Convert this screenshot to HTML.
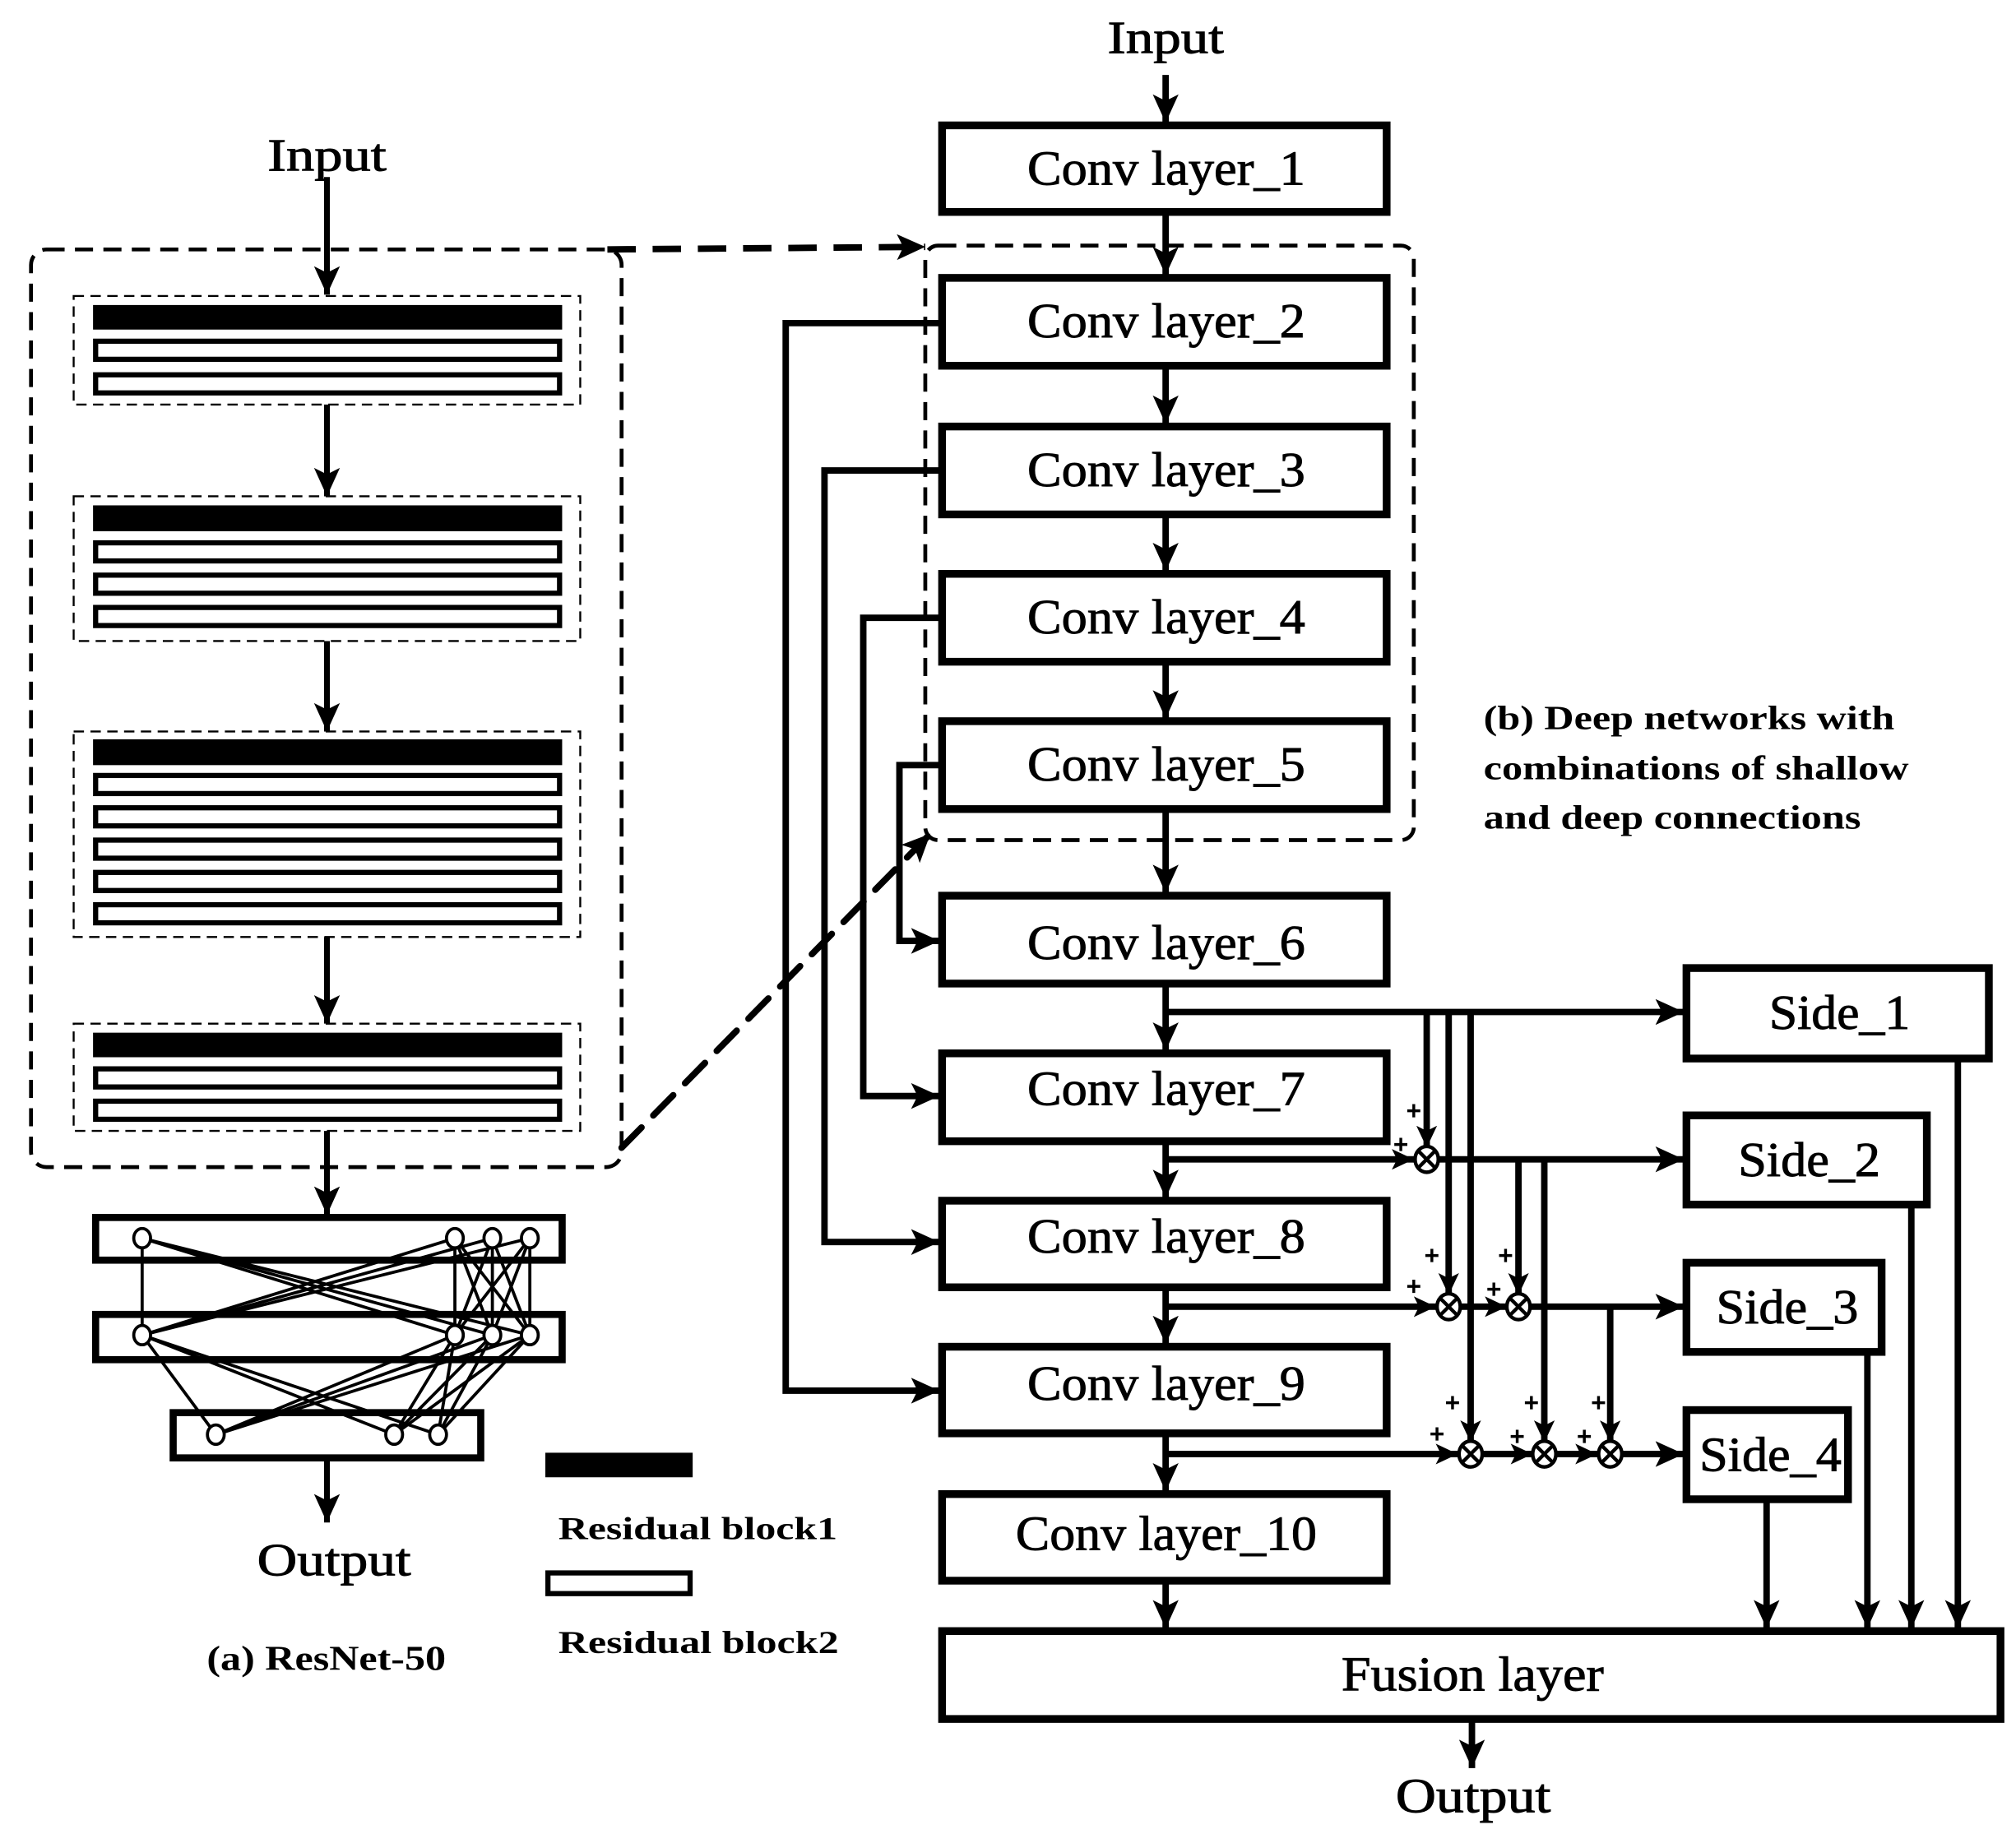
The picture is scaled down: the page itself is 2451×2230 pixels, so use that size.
<!DOCTYPE html>
<html><head><meta charset="utf-8"><style>
html,body{margin:0;padding:0;background:#fff;}
svg{display:block;}
text{font-family:"Liberation Serif",serif;fill:#000;}
</style></head><body>
<svg width="2451" height="2230" viewBox="0 0 1560 1419" preserveAspectRatio="none" xmlns="http://www.w3.org/2000/svg">
<defs>
<marker id="a" markerUnits="userSpaceOnUse" markerWidth="24" markerHeight="20" refX="22" refY="10" orient="auto"><path d="M0,0 L22,10 L0,20 L5,10 z" fill="#000"/></marker>
<marker id="s" markerUnits="userSpaceOnUse" markerWidth="18" markerHeight="16" refX="17" refY="8" orient="auto"><path d="M0,0 L17,8 L0,16 L4,8 z" fill="#000"/></marker>
</defs>
<rect width="1560" height="1419" fill="#fff"/>

<!-- ===== LEFT PANEL ===== -->
<text x="207" y="132" font-size="36" textLength="92" lengthAdjust="spacingAndGlyphs" stroke="#000" stroke-width="0.6">Input</text>
<line x1="253" y1="137" x2="253" y2="228" stroke="#000" stroke-width="4.5" marker-end="url(#a)"/>
<rect x="24" y="193" width="457" height="710" rx="12" fill="none" stroke="#000" stroke-width="3" stroke-dasharray="14,8"/>

<g fill="none" stroke="#000" stroke-width="1.5" stroke-dasharray="8,5">
<rect x="57" y="229" width="392" height="84"/>
<rect x="57" y="384" width="392" height="112"/>
<rect x="57" y="566" width="392" height="159"/>
<rect x="57" y="792" width="392" height="83"/>
</g>
<g fill="#000"><rect x="72" y="236" width="363" height="19"/><rect x="72" y="391" width="363" height="20"/><rect x="72" y="572" width="363" height="20"/><rect x="72" y="799" width="363" height="19"/></g>
<g fill="#fff" stroke="#000" stroke-width="4">
<rect x="74" y="264" width="359" height="14"/><rect x="74" y="290" width="359" height="14"/>
<rect x="74" y="420" width="359" height="14"/><rect x="74" y="445" width="359" height="14"/><rect x="74" y="470" width="359" height="14"/>
<rect x="74" y="600" width="359" height="14"/><rect x="74" y="625" width="359" height="14"/><rect x="74" y="650" width="359" height="14"/><rect x="74" y="675" width="359" height="14"/><rect x="74" y="700" width="359" height="14"/>
<rect x="74" y="827" width="359" height="14"/><rect x="74" y="852" width="359" height="14"/>
</g>
<g stroke="#000" stroke-width="4.5">
<line x1="253" y1="313" x2="253" y2="384" marker-end="url(#a)"/>
<line x1="253" y1="496" x2="253" y2="566" marker-end="url(#a)"/>
<line x1="253" y1="725" x2="253" y2="792" marker-end="url(#a)"/>
<line x1="253" y1="875" x2="253" y2="940" marker-end="url(#a)"/>
<line x1="253" y1="1128" x2="253" y2="1178" marker-end="url(#a)"/>
</g>

<!-- FC layers -->
<g fill="none" stroke="#000" stroke-width="5.5">
<rect x="74" y="942" width="361" height="33"/>
<rect x="74" y="1017" width="361" height="35"/>
<rect x="134" y="1093" width="238" height="35"/>
</g>
<g stroke="#000" stroke-width="2.4">
<line x1="110" y1="958" x2="110" y2="1033"/>
<line x1="110" y1="958" x2="352" y2="1033"/><line x1="110" y1="958" x2="381" y2="1033"/><line x1="110" y1="958" x2="410" y2="1033"/>
<line x1="352" y1="958" x2="110" y2="1033"/><line x1="381" y1="958" x2="110" y2="1033"/><line x1="410" y1="958" x2="110" y2="1033"/>
<line x1="352" y1="958" x2="352" y2="1033"/><line x1="352" y1="958" x2="381" y2="1033"/><line x1="352" y1="958" x2="410" y2="1033"/>
<line x1="381" y1="958" x2="352" y2="1033"/><line x1="381" y1="958" x2="381" y2="1033"/><line x1="381" y1="958" x2="410" y2="1033"/>
<line x1="410" y1="958" x2="352" y2="1033"/><line x1="410" y1="958" x2="381" y2="1033"/><line x1="410" y1="958" x2="410" y2="1033"/>
<line x1="110" y1="1033" x2="167" y2="1110"/><line x1="110" y1="1033" x2="305" y2="1110"/><line x1="110" y1="1033" x2="339" y2="1110"/>
<line x1="352" y1="1033" x2="167" y2="1110"/><line x1="352" y1="1033" x2="305" y2="1110"/><line x1="352" y1="1033" x2="339" y2="1110"/>
<line x1="381" y1="1033" x2="167" y2="1110"/><line x1="381" y1="1033" x2="305" y2="1110"/><line x1="381" y1="1033" x2="339" y2="1110"/>
<line x1="410" y1="1033" x2="167" y2="1110"/><line x1="410" y1="1033" x2="305" y2="1110"/><line x1="410" y1="1033" x2="339" y2="1110"/>
</g>
<g fill="#fff" stroke="#000" stroke-width="2.4">
<ellipse cx="110" cy="958" rx="6.5" ry="7.5"/><ellipse cx="352" cy="958" rx="6.5" ry="7.5"/><ellipse cx="381" cy="958" rx="6.5" ry="7.5"/><ellipse cx="410" cy="958" rx="6.5" ry="7.5"/>
<ellipse cx="110" cy="1033" rx="6.5" ry="7.5"/><ellipse cx="352" cy="1033" rx="6.5" ry="7.5"/><ellipse cx="381" cy="1033" rx="6.5" ry="7.5"/><ellipse cx="410" cy="1033" rx="6.5" ry="7.5"/>
<ellipse cx="167" cy="1110" rx="6.5" ry="7.5"/><ellipse cx="305" cy="1110" rx="6.5" ry="7.5"/><ellipse cx="339" cy="1110" rx="6.5" ry="7.5"/>
</g>
<text x="199" y="1219" font-size="36" textLength="119" lengthAdjust="spacingAndGlyphs" stroke="#000" stroke-width="0.6">Output</text>
<text x="160" y="1292" font-size="27" font-weight="bold" textLength="185" lengthAdjust="spacingAndGlyphs">(a) ResNet-50</text>

<!-- legend -->
<rect x="422" y="1124" width="114" height="19" fill="#000"/>
<text x="432" y="1191" font-size="25" font-weight="bold" textLength="216" lengthAdjust="spacingAndGlyphs">Residual block1</text>
<rect x="424" y="1217" width="110" height="16" fill="#fff" stroke="#000" stroke-width="4"/>
<text x="432" y="1279" font-size="25" font-weight="bold" textLength="217" lengthAdjust="spacingAndGlyphs">Residual block2</text>

<!-- dashed connectors -->
<line x1="470" y1="193" x2="716" y2="191" stroke="#000" stroke-width="5" stroke-dasharray="22,13" marker-end="url(#a)"/>
<line x1="481" y1="888" x2="720" y2="645" stroke="#000" stroke-width="5" stroke-dasharray="22,13" stroke-linecap="round" marker-end="url(#a)"/>

<!-- ===== RIGHT PANEL ===== -->
<text x="857" y="41" font-size="36" textLength="90" lengthAdjust="spacingAndGlyphs" stroke="#000" stroke-width="0.6">Input</text>
<rect x="716" y="190" width="378" height="460" rx="10" fill="none" stroke="#000" stroke-width="3" stroke-dasharray="14,8"/>

<g stroke="#000" stroke-width="5" fill="none">
<line x1="902" y1="58" x2="902" y2="95" marker-end="url(#a)"/>
<line x1="902" y1="165" x2="902" y2="213" marker-end="url(#a)"/>
<line x1="902" y1="285" x2="902" y2="328" marker-end="url(#a)"/>
<line x1="902" y1="400" x2="902" y2="442" marker-end="url(#a)"/>
<line x1="902" y1="514" x2="902" y2="556" marker-end="url(#a)"/>
<line x1="902" y1="628" x2="902" y2="691" marker-end="url(#a)"/>
<line x1="902" y1="763" x2="902" y2="813" marker-end="url(#a)"/>
<line x1="902" y1="885" x2="902" y2="927" marker-end="url(#a)"/>
<line x1="902" y1="998" x2="902" y2="1040" marker-end="url(#a)"/>
<line x1="902" y1="1111" x2="902" y2="1154" marker-end="url(#a)"/>
<line x1="902" y1="1225" x2="902" y2="1260" marker-end="url(#a)"/>
<line x1="1139" y1="1332" x2="1139" y2="1368" marker-end="url(#a)"/>
<!-- skip loops -->
<polyline points="727,250 608,250 608,1076 727,1076" marker-end="url(#a)"/>
<polyline points="727,364 638,364 638,961 727,961" marker-end="url(#a)"/>
<polyline points="727,478 668,478 668,848 727,848" marker-end="url(#a)"/>
<polyline points="727,592 696,592 696,728 727,728" marker-end="url(#a)"/>
<!-- side lines -->
<line x1="902" y1="783" x2="1303" y2="783" marker-end="url(#a)"/>
<line x1="902" y1="897" x2="1094" y2="897" marker-end="url(#s)"/>
<line x1="1112" y1="897" x2="1303" y2="897" marker-end="url(#a)"/>
<line x1="902" y1="1011" x2="1111" y2="1011" marker-end="url(#s)"/>
<line x1="1130" y1="1011" x2="1166" y2="1011" marker-end="url(#s)"/>
<line x1="1184" y1="1011" x2="1303" y2="1011" marker-end="url(#a)"/>
<line x1="902" y1="1125" x2="1128" y2="1125" marker-end="url(#s)"/>
<line x1="1147" y1="1125" x2="1186" y2="1125" marker-end="url(#s)"/>
<line x1="1204" y1="1125" x2="1236" y2="1125" marker-end="url(#s)"/>
<line x1="1254" y1="1125" x2="1303" y2="1125" marker-end="url(#a)"/>
<!-- verticals -->
<line x1="1104" y1="783" x2="1104" y2="888" marker-end="url(#s)"/>
<line x1="1121" y1="783" x2="1121" y2="1002" marker-end="url(#s)"/>
<line x1="1138" y1="783" x2="1138" y2="1116" marker-end="url(#s)"/>
<line x1="1175" y1="897" x2="1175" y2="1002" marker-end="url(#s)"/>
<line x1="1195" y1="897" x2="1195" y2="1116" marker-end="url(#s)"/>
<line x1="1246" y1="1011" x2="1246" y2="1116" marker-end="url(#s)"/>
<!-- to fusion -->
<line x1="1515" y1="821" x2="1515" y2="1260" marker-end="url(#a)"/>
<line x1="1479" y1="934" x2="1479" y2="1260" marker-end="url(#a)"/>
<line x1="1445" y1="1048" x2="1445" y2="1260" marker-end="url(#a)"/>
<line x1="1367" y1="1162" x2="1367" y2="1260" marker-end="url(#a)"/>
</g>

<!-- conv boxes -->
<g fill="#fff" stroke="#000" stroke-width="6">
<rect x="729" y="97" width="344" height="67"/>
<rect x="729" y="215" width="344" height="68"/>
<rect x="729" y="330" width="344" height="68"/>
<rect x="729" y="444" width="344" height="68"/>
<rect x="729" y="558" width="344" height="68"/>
<rect x="729" y="693" width="344" height="68"/>
<rect x="729" y="815" width="344" height="68"/>
<rect x="729" y="929" width="344" height="67"/>
<rect x="729" y="1042" width="344" height="67"/>
<rect x="729" y="1156" width="344" height="67"/>
<rect x="729" y="1262" width="819" height="68"/>
<rect x="1305" y="749" width="234" height="70"/>
<rect x="1305" y="863" width="186" height="69"/>
<rect x="1305" y="977" width="151" height="69"/>
<rect x="1305" y="1091" width="125" height="69"/>
</g>
<g font-size="38" stroke="#000" stroke-width="0.6" lengthAdjust="spacingAndGlyphs">
<text x="795" y="143" textLength="215" lengthAdjust="spacingAndGlyphs">Conv layer_1</text>
<text x="795" y="261" textLength="215" lengthAdjust="spacingAndGlyphs">Conv layer_2</text>
<text x="795" y="376" textLength="215" lengthAdjust="spacingAndGlyphs">Conv layer_3</text>
<text x="795" y="490" textLength="215" lengthAdjust="spacingAndGlyphs">Conv layer_4</text>
<text x="795" y="604" textLength="215" lengthAdjust="spacingAndGlyphs">Conv layer_5</text>
<text x="795" y="742" textLength="215" lengthAdjust="spacingAndGlyphs">Conv layer_6</text>
<text x="795" y="855" textLength="215" lengthAdjust="spacingAndGlyphs">Conv layer_7</text>
<text x="795" y="969" textLength="215" lengthAdjust="spacingAndGlyphs">Conv layer_8</text>
<text x="795" y="1083" textLength="215" lengthAdjust="spacingAndGlyphs">Conv layer_9</text>
<text x="786" y="1199" textLength="233" lengthAdjust="spacingAndGlyphs">Conv layer_10</text>
<text x="1038" y="1308" textLength="203" lengthAdjust="spacingAndGlyphs">Fusion layer</text>
<text x="1369" y="796" textLength="109" lengthAdjust="spacingAndGlyphs">Side_1</text>
<text x="1345" y="910" textLength="110" lengthAdjust="spacingAndGlyphs">Side_2</text>
<text x="1328" y="1024" textLength="110" lengthAdjust="spacingAndGlyphs">Side_3</text>
<text x="1315" y="1138" textLength="110" lengthAdjust="spacingAndGlyphs">Side_4</text>
<text x="1080" y="1402" textLength="120" lengthAdjust="spacingAndGlyphs">Output</text>
</g>

<!-- otimes circles -->
<g fill="#fff" stroke="#000" stroke-width="2.8">
<g transform="translate(1104,897)"><ellipse rx="9" ry="10"/><path d="M-6,-6 L6,6 M6,-6 L-6,6"/></g>
<g transform="translate(1121,1011)"><ellipse rx="9" ry="10"/><path d="M-6,-6 L6,6 M6,-6 L-6,6"/></g>
<g transform="translate(1175,1011)"><ellipse rx="9" ry="10"/><path d="M-6,-6 L6,6 M6,-6 L-6,6"/></g>
<g transform="translate(1138,1125)"><ellipse rx="9" ry="10"/><path d="M-6,-6 L6,6 M6,-6 L-6,6"/></g>
<g transform="translate(1195,1125)"><ellipse rx="9" ry="10"/><path d="M-6,-6 L6,6 M6,-6 L-6,6"/></g>
<g transform="translate(1246,1125)"><ellipse rx="9" ry="10"/><path d="M-6,-6 L6,6 M6,-6 L-6,6"/></g>
</g>
<g font-size="20" font-weight="bold" text-anchor="middle" stroke="#000" stroke-width="0.8">
<text x="1094" y="866">+</text><text x="1084" y="892">+</text>
<text x="1108" y="978">+</text><text x="1094" y="1002">+</text>
<text x="1165" y="978">+</text><text x="1156" y="1004">+</text>
<text x="1124" y="1092">+</text><text x="1112" y="1116">+</text>
<text x="1185" y="1092">+</text><text x="1174" y="1118">+</text>
<text x="1237" y="1092">+</text><text x="1226" y="1118">+</text>
</g>

<g font-size="26" font-weight="bold">
<text x="1148" y="564" textLength="318" lengthAdjust="spacingAndGlyphs">(b) Deep networks with</text>
<text x="1148" y="603" textLength="329" lengthAdjust="spacingAndGlyphs">combinations of shallow</text>
<text x="1148" y="641" textLength="292" lengthAdjust="spacingAndGlyphs">and deep connections</text>
</g>
</svg>
</body></html>
